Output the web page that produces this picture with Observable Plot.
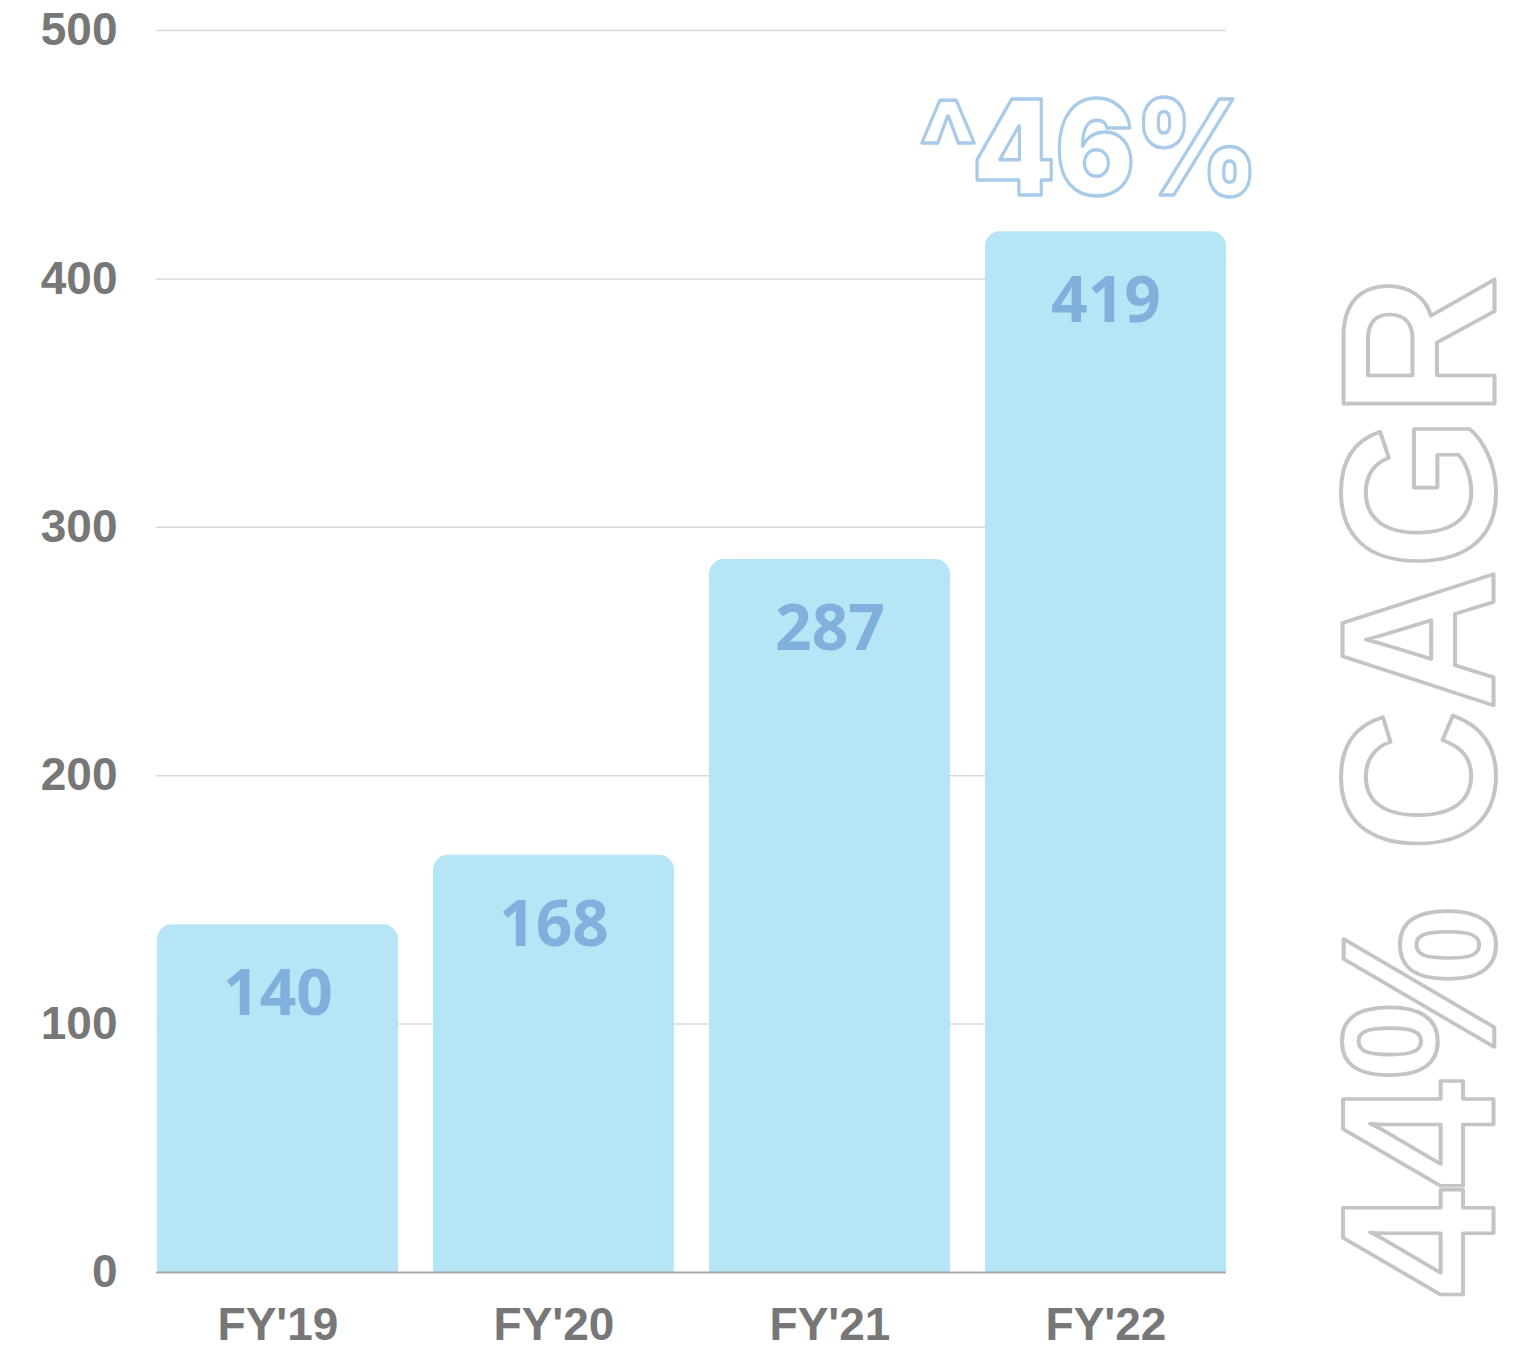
<!DOCTYPE html>
<html>
<head>
<meta charset="utf-8">
<script src="https://cdn.jsdelivr.net/npm/d3@7"></script>
<script src="https://cdn.jsdelivr.net/npm/@observablehq/plot@0.6"></script>
<style>
  html, body { margin: 0; padding: 0; background: #fff; }
  #chart svg { display: block; }
</style>
</head>
<body>
<div id="chart"></div>
<script>
const categories = ["FY'19", "FY'20", "FY'21", "FY'22"];
const values = [140, 168, 287, 419];
const yTicks = [0, 100, 200, 300, 400, 500];
const growthLabel = "^46%";
const cagrLabel = "44% CAGR";

const data = categories.map((c, i) => ({ year: c, value: values[i] }));

const chart = Plot.plot({
  width: 1523,
  height: 1350,
  marginLeft: 156,
  marginRight: 297,
  marginTop: 30,
  marginBottom: 78,
  style: { fontFamily: "'Liberation Sans', Arial, sans-serif", fontWeight: "bold", color: "#777", background: "#fff", overflow: "visible" },
  x: { domain: categories, paddingInner: 0.127, paddingOuter: 0, label: null },
  y: { domain: [0, 500], label: null },
  marks: [
    Plot.gridY(yTicks.filter(t => t > 0), { stroke: "#d9d9d9", strokeOpacity: 1, strokeWidth: 1.5 }),
    Plot.barY(data, { x: "year", y: "value", fill: "#b6e5f5", rx: 15 }),
    Plot.barY(data, { x: "year", y1: 0, y2: d => d.value - 10, fill: "#b6e5f5" }),
    Plot.ruleY([0], { stroke: "#aaa", strokeWidth: 2 }),
    Plot.text(data, { x: "year", y: "value", text: d => String(d.value), dy: 70, lineAnchor: "middle", fontFamily: "'Open Sans', sans-serif", fontWeight: "bold", fontSize: 64, fill: "#80b1dc" }),
    Plot.axisY({ ticks: yTicks, tickSize: 0, tickPadding: 39, fontSize: 46, label: null }),
    Plot.axisX({ tickSize: 0, tickPadding: 35, fontSize: 46, label: null }),
    Plot.text([growthLabel], { frameAnchor: "top-right", text: d => d, textAnchor: "end", lineAnchor: "middle", dx: 32, dy: 122, fontFamily: "Inter, 'Open Sans', sans-serif", fontWeight: 900, fontSize: 132, fill: "none", stroke: "#a9cbe8", strokeWidth: 3.5, className: "growth" }),
    Plot.text([cagrLabel], { frameAnchor: "right", text: d => d, rotate: -90, textAnchor: "middle", lineAnchor: "middle", dx: 197, dy: 135, fontFamily: "'Liberation Sans', Arial, sans-serif", fontWeight: "bold", fontSize: 219, fill: "none", stroke: "#c4c4c4", strokeWidth: 4, className: "cagr" })
  ]
});

document.getElementById("chart").appendChild(chart);
const g = chart.querySelector("g.growth text");
if (g) { g.setAttribute("textLength", "340"); g.setAttribute("lengthAdjust", "spacingAndGlyphs"); }
const c = chart.querySelector("g.cagr text");
if (c) { c.setAttribute("textLength", "1022"); c.setAttribute("lengthAdjust", "spacingAndGlyphs"); }
</script>
</body>
</html>
